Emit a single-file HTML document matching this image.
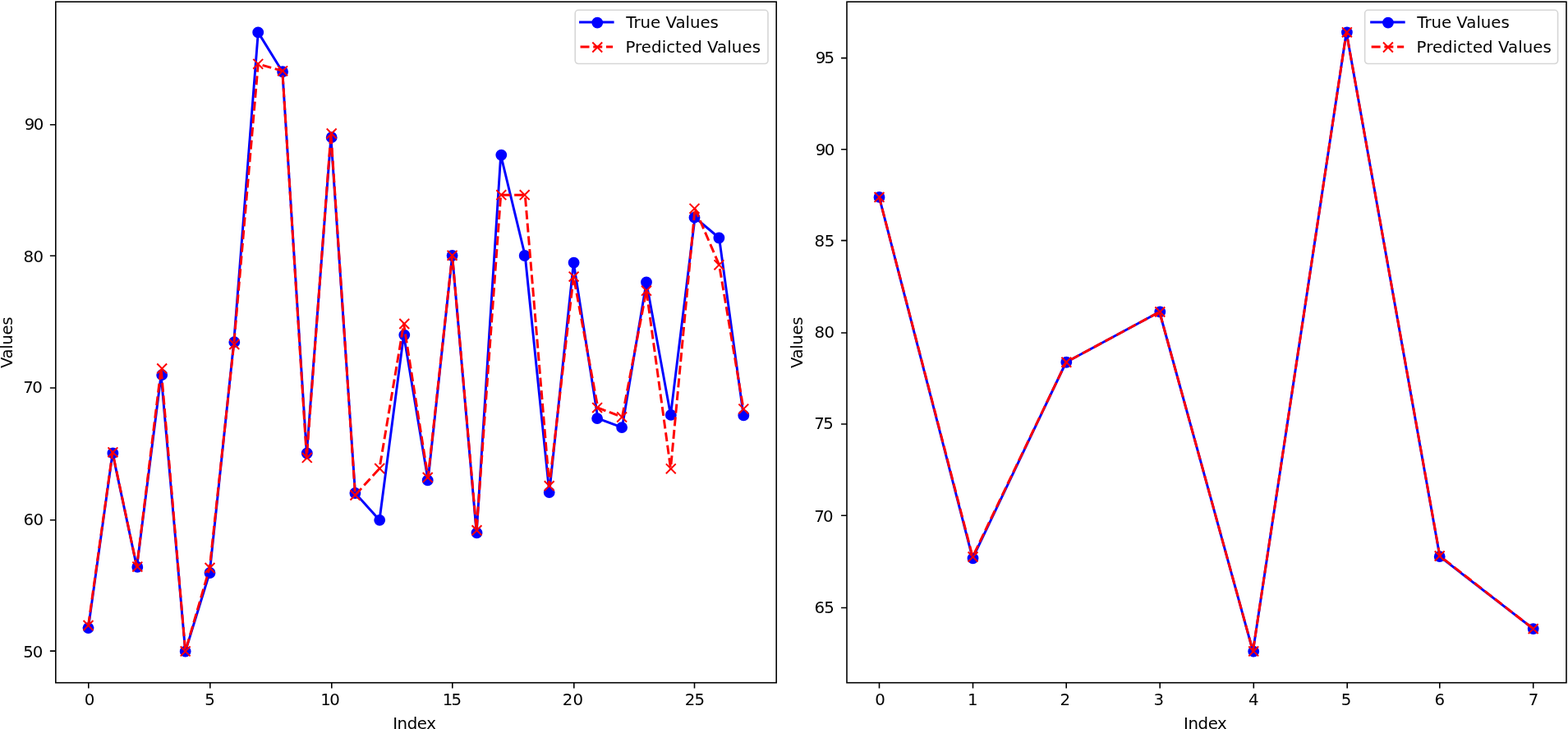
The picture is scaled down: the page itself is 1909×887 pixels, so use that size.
<!DOCTYPE html>
<html lang="en">
<head>
<meta charset="utf-8">
<title>True vs Predicted Values</title>
<style>
html,body{margin:0;padding:0;background:#fff;}
body{width:1909px;height:887px;overflow:hidden;}
svg{display:block;}
text{font-family:'DejaVu Sans','Liberation Sans',sans-serif;font-size:19.76px;fill:#000;}
.lt{fill:none;stroke:#00f;stroke-width:2.96;stroke-linejoin:round;stroke-linecap:square;}
.mt,.mt circle{fill:#00f;stroke:#00f;stroke-width:1.98;}
.lp path{fill:none;stroke:#f00;stroke-width:2.96;stroke-linecap:butt;stroke-dasharray:10.97 4.74;}
.jp circle{fill:#f00;}
.mp{fill:none;stroke:#f00;stroke-width:1.98;stroke-linecap:butt;}
.tk{fill:none;stroke:#000;stroke-width:1.58;}
.sp{fill:none;stroke:#000;stroke-width:1.58;stroke-linejoin:miter;}
.lb{fill:#fff;fill-opacity:.8;stroke:#ccc;stroke-opacity:.8;stroke-width:1.6;}
</style>
</head>
<body>
<svg xmlns="http://www.w3.org/2000/svg" width="1909" height="887" viewBox="0 0 1909 887">
<rect width="1909" height="887" fill="#fff"/>
<g class="chart" id="chart-a">
<clipPath id="clip-a"><rect x="67.8" y="2.2" width="877.4" height="828.5"/></clipPath>
<g clip-path="url(#clip-a)">
<polyline class="lt" points="107.5,764.1 137.04,551.4 166.58,689.9 196.13,456.2 225.67,792.6 255.21,697 284.75,416.2 314.29,39.4 343.84,87.25 373.38,551.5 402.92,167.2 432.46,600 462,632.8 491.55,407.6 521.09,584.4 550.63,311 580.17,648.4 609.71,188.6 639.26,311 668.8,599.1 698.34,319.6 727.88,509.1 757.42,520.1 786.97,343.5 816.51,504.9 846.05,264.7 875.59,289.5 905.13,505.4"/>
<g class="mt"><circle cx="107.5" cy="764.1" r="5.93"/><circle cx="137.4" cy="551.4" r="5.93"/><circle cx="167.3" cy="689.9" r="5.93"/><circle cx="197.2" cy="456.2" r="5.93"/><circle cx="225.7" cy="792.6" r="5.93"/><circle cx="255.5" cy="697" r="5.93"/><circle cx="285.3" cy="416.2" r="5.93"/><circle cx="314.2" cy="39.4" r="5.93"/><circle cx="344.1" cy="87.25" r="5.93"/><circle cx="373.8" cy="551.5" r="5.93"/><circle cx="403.7" cy="167.2" r="5.93"/><circle cx="432.4" cy="600" r="5.93"/><circle cx="462.2" cy="632.8" r="5.93"/><circle cx="492.3" cy="407.6" r="5.93"/><circle cx="520.7" cy="584.4" r="5.93"/><circle cx="550.6" cy="311" r="5.93"/><circle cx="580.5" cy="648.4" r="5.93"/><circle cx="610.3" cy="188.6" r="5.93"/><circle cx="638.7" cy="311" r="5.93"/><circle cx="668.7" cy="599.1" r="5.93"/><circle cx="698.6" cy="319.6" r="5.93"/><circle cx="727.1" cy="509.1" r="5.93"/><circle cx="757.1" cy="520.1" r="5.93"/><circle cx="787" cy="343.5" r="5.93"/><circle cx="816.8" cy="504.9" r="5.93"/><circle cx="845.5" cy="264.7" r="5.93"/><circle cx="875.4" cy="289.5" r="5.93"/><circle cx="905.3" cy="505.4" r="5.93"/></g>
<g class="lp"><path d="M107.5 761L137.04 550.3" stroke-dashoffset="15.21"/><path d="M137.04 550.3L166.58 689.6" stroke-dashoffset="7.8"/><path d="M166.58 689.6L196.13 448.4" stroke-dashoffset="6.37"/><path d="M196.13 448.4L225.67 792.4" stroke-dashoffset="13.91"/><path d="M225.67 792.4L255.21 691" stroke-dashoffset="10.73"/><path d="M255.21 691L284.75 419" stroke-dashoffset="6.64"/><path d="M284.75 419L314.29 77.8" stroke-dashoffset="12.98"/><path d="M314.29 77.8L343.84 86.3" stroke-dashoffset="10.18"/><path d="M343.84 86.3L373.38 556.9" stroke-dashoffset="10.31"/><path d="M373.38 556.9L402.92 162.5" stroke-dashoffset="9.89"/><path d="M402.92 162.5L432.46 602.5" stroke-dashoffset="13.97"/><path d="M432.46 602.5L462 570" stroke-dashoffset="15.36"/><path d="M462 570L491.55 394" stroke-dashoffset="10.96"/><path d="M491.55 394L521.09 580.9" stroke-dashoffset="3.03"/><path d="M521.09 580.9L550.63 310.8" stroke-dashoffset="2.86"/><path d="M550.63 310.8L580.17 645.25" stroke-dashoffset="8.82"/><path d="M580.17 645.25L609.71 237.2" stroke-dashoffset="13.51"/><path d="M609.71 237.2L639.26 237.2" stroke-dashoffset="14.98"/><path d="M639.26 237.2L668.8 591.2" stroke-dashoffset="12.51"/><path d="M668.8 591.2L698.34 336.6" stroke-dashoffset="5.59"/><path d="M698.34 336.6L727.88 496.1" stroke-dashoffset="10.95"/><path d="M727.88 496.1L757.42 507.5" stroke-dashoffset="0.74"/><path d="M757.42 507.5L786.97 353.7" stroke-dashoffset="14.62"/><path d="M786.97 353.7L816.51 570.3" stroke-dashoffset="14.44"/><path d="M816.51 570.3L846.05 253.8" stroke-dashoffset="10.6"/><path d="M846.05 253.8L875.59 322.3" stroke-dashoffset="15.65"/><path d="M875.59 322.3L905.13 497.6" stroke-dashoffset="11.05"/></g>
<g class="jp"><circle cx="137.04" cy="550.3" r="1.48"/><circle cx="166.58" cy="689.6" r="1.48"/><circle cx="225.67" cy="792.4" r="1.48"/><circle cx="255.21" cy="691" r="1.48"/><circle cx="314.29" cy="77.8" r="1.48"/><circle cx="343.84" cy="86.3" r="1.48"/><circle cx="373.38" cy="556.9" r="1.48"/><circle cx="462" cy="570" r="1.48"/><circle cx="491.55" cy="394" r="1.48"/><circle cx="521.09" cy="580.9" r="1.48"/><circle cx="550.63" cy="310.8" r="1.48"/><circle cx="668.8" cy="591.2" r="1.48"/><circle cx="698.34" cy="336.6" r="1.48"/><circle cx="727.88" cy="496.1" r="1.48"/><circle cx="757.42" cy="507.5" r="1.48"/><circle cx="816.51" cy="570.3" r="1.48"/><circle cx="905.13" cy="497.6" r="1.48"/></g>
<path class="mp" d="M101.57 755.07l11.86 11.86M101.57 766.93l11.86 -11.86M131.47 544.37l11.86 11.86M131.47 556.23l11.86 -11.86M161.37 683.67l11.86 11.86M161.37 695.53l11.86 -11.86M191.27 442.47l11.86 11.86M191.27 454.33l11.86 -11.86M219.77 786.47l11.86 11.86M219.77 798.33l11.86 -11.86M249.57 685.07l11.86 11.86M249.57 696.93l11.86 -11.86M279.37 413.07l11.86 11.86M279.37 424.93l11.86 -11.86M308.27 71.87l11.86 11.86M308.27 83.73l11.86 -11.86M338.17 80.37l11.86 11.86M338.17 92.23l11.86 -11.86M367.87 550.97l11.86 11.86M367.87 562.83l11.86 -11.86M397.77 156.57l11.86 11.86M397.77 168.43l11.86 -11.86M426.47 596.57l11.86 11.86M426.47 608.43l11.86 -11.86M456.27 564.07l11.86 11.86M456.27 575.93l11.86 -11.86M486.37 388.07l11.86 11.86M486.37 399.93l11.86 -11.86M514.77 574.97l11.86 11.86M514.77 586.83l11.86 -11.86M544.67 304.87l11.86 11.86M544.67 316.73l11.86 -11.86M574.57 639.32l11.86 11.86M574.57 651.18l11.86 -11.86M604.37 231.27l11.86 11.86M604.37 243.13l11.86 -11.86M632.77 231.27l11.86 11.86M632.77 243.13l11.86 -11.86M662.77 585.27l11.86 11.86M662.77 597.13l11.86 -11.86M692.67 330.67l11.86 11.86M692.67 342.53l11.86 -11.86M721.17 490.17l11.86 11.86M721.17 502.03l11.86 -11.86M751.17 501.57l11.86 11.86M751.17 513.43l11.86 -11.86M781.07 347.77l11.86 11.86M781.07 359.63l11.86 -11.86M810.87 564.37l11.86 11.86M810.87 576.23l11.86 -11.86M839.57 247.87l11.86 11.86M839.57 259.73l11.86 -11.86M869.47 316.37l11.86 11.86M869.47 328.23l11.86 -11.86M899.37 491.67l11.86 11.86M899.37 503.53l11.86 -11.86"/>
</g>
<path class="tk" d="M107.8 830.7v6.92M255.8 830.7v6.92M403.8 830.7v6.92M550.8 830.7v6.92M698.8 830.7v6.92M845.5 830.7v6.92M67.8 792.1h-6.92M67.8 632.7h-6.92M67.8 472h-6.92M67.8 311.2h-6.92M67.8 151.8h-6.92"/>
<rect class="sp" x="67.8" y="2.2" width="877.4" height="828.5"/>
<g class="xt"><text id="ax0" x="102.64" y="858">0</text><text id="ax5" x="249.14" y="858">5</text><text id="ax10" x="390.2" y="858" style="letter-spacing:-1.4px">10</text><text id="ax15" x="538.7" y="858" style="letter-spacing:-1.75px">15</text><text id="ax20" x="684.7" y="858" style="letter-spacing:0.25px">20</text><text id="ax25" x="833.65" y="858" style="letter-spacing:-0.75px">25</text></g>
<g class="yt"><text id="ay50" x="28.35" y="800" style="letter-spacing:-1.2px">50</text><text id="ay60" x="28.6" y="639" style="letter-spacing:-0.6px">60</text><text id="ay70" x="28.35" y="478" style="letter-spacing:-1.7px">70</text><text id="ay80" x="28.6" y="319" style="letter-spacing:-0.6px">80</text><text id="ay90" x="29.85" y="158" style="letter-spacing:-1.7px">90</text></g>
<text id="axl" x="478.15" y="887" style="letter-spacing:-0.398px">Index</text>
<text id="ayl" transform="translate(15.2 448.05) rotate(-90)" style="letter-spacing:-0.39px">Values</text>
<g class="lg">
<rect class="lb" x="700.25" y="12.3" width="234.75" height="65.2" rx="3.95" ry="3.95"/>
<path class="lt" d="M706.55 27H746.1"/>
<circle class="mt" cx="727.25" cy="27.6" r="5.93"/>
<g class="lp"><path d="M706.55 56.9H746.1"/></g>
<path class="mp" d="M721.32 51.57l11.86 11.86M721.32 63.43l11.86 -11.86"/>
<text id="alt" x="762.35" y="34" style="letter-spacing:-0.025px">True Values</text>
<text id="alp" x="761.45" y="64" style="letter-spacing:0.065px">Predicted Values</text>
</g>
</g>
<g class="chart" id="chart-b">
<clipPath id="clip-b"><rect x="1031" y="2.2" width="876" height="828.5"/></clipPath>
<g clip-path="url(#clip-b)">
<polyline class="lt" points="1070.4,239.9 1184.16,679.3 1297.92,440.75 1411.68,379.5 1525.44,792.6 1639.2,39.3 1752.96,677.2 1866.72,765.1"/>
<g class="mt"><circle cx="1070.5" cy="239.9" r="5.93"/><circle cx="1184.5" cy="679.3" r="5.93"/><circle cx="1298.3" cy="440.75" r="5.93"/><circle cx="1412.3" cy="379.5" r="5.93"/><circle cx="1526.2" cy="792.6" r="5.93"/><circle cx="1639.9" cy="39.3" r="5.93"/><circle cx="1752.7" cy="677.2" r="5.93"/><circle cx="1866.7" cy="765.1" r="5.93"/></g>
<g class="lp"><path d="M1070.4 239.9L1184.16 677.5" stroke-dashoffset="1.29"/><path d="M1184.16 677.5L1297.92 440.75" stroke-dashoffset="11.51"/><path d="M1297.92 440.75L1411.68 379.5" stroke-dashoffset="8.81"/><path d="M1411.68 379.5L1525.44 792.4" stroke-dashoffset="13.18"/><path d="M1525.44 792.4L1639.2 39.3" stroke-dashoffset="13.93"/><path d="M1639.2 39.3L1752.96 676.5" stroke-dashoffset="7.32"/><path d="M1752.96 676.5L1866.72 765.1" stroke-dashoffset="9.29"/></g>
<g class="jp"><circle cx="1070.4" cy="239.9" r="1.48"/><circle cx="1297.92" cy="440.75" r="1.48"/><circle cx="1525.44" cy="792.4" r="1.48"/><circle cx="1639.2" cy="39.3" r="1.48"/><circle cx="1752.96" cy="676.5" r="1.48"/></g>
<path class="mp" d="M1064.57 233.97l11.86 11.86M1064.57 245.83l11.86 -11.86M1178.57 671.57l11.86 11.86M1178.57 683.43l11.86 -11.86M1292.37 434.82l11.86 11.86M1292.37 446.68l11.86 -11.86M1406.37 373.57l11.86 11.86M1406.37 385.43l11.86 -11.86M1520.27 786.47l11.86 11.86M1520.27 798.33l11.86 -11.86M1633.97 33.37l11.86 11.86M1633.97 45.23l11.86 -11.86M1746.77 670.57l11.86 11.86M1746.77 682.43l11.86 -11.86M1860.77 759.17l11.86 11.86M1860.77 771.03l11.86 -11.86"/>
</g>
<path class="tk" d="M1070.5 830.7v6.92M1184.5 830.7v6.92M1298.2 830.7v6.92M1412.2 830.7v6.92M1526.3 830.7v6.92M1640.2 830.7v6.92M1752.8 830.7v6.92M1866.7 830.7v6.92M1031 739.55h-6.92M1031 627.26h-6.92M1031 516.07h-6.92M1031 405.07h-6.92M1031 292.66h-6.92M1031 181.74h-6.92M1031 70.6h-6.92"/>
<rect class="sp" x="1031" y="2.2" width="876" height="828.5"/>
<g class="xt"><text id="bx0" x="1065.35" y="858">0</text><text id="bx1" x="1178.04" y="858">1</text><text id="bx2" x="1290.49" y="858">2</text><text id="bx3" x="1404.41" y="858">3</text><text id="bx4" x="1519.88" y="858">4</text><text id="bx5" x="1632.64" y="858">5</text><text id="bx6" x="1746.38" y="858">6</text><text id="bx7" x="1860.64" y="858">7</text></g>
<g class="yt"><text id="by65" x="991.6" y="746" style="letter-spacing:-1px">65</text><text id="by70" x="991.35" y="635" style="letter-spacing:-2px">70</text><text id="by75" x="991.35" y="522" style="letter-spacing:-1.7px">75</text><text id="by80" x="991.6" y="411" style="letter-spacing:-0.6px">80</text><text id="by85" x="991.6" y="300" style="letter-spacing:-0.35px">85</text><text id="by90" x="992.85" y="189" style="letter-spacing:-1.7px">90</text><text id="by95" x="992.85" y="77" style="letter-spacing:-2px">95</text></g>
<text id="bxl" x="1441" y="887" style="letter-spacing:-0.398px">Index</text>
<text id="byl" transform="translate(976.7 448.05) rotate(-90)" style="letter-spacing:-0.39px">Values</text>
<g class="lg">
<rect class="lb" x="1661.65" y="12.3" width="234.95" height="65.2" rx="3.95" ry="3.95"/>
<path class="lt" d="M1669.65 27H1709.2"/>
<circle class="mt" cx="1689.95" cy="27.6" r="5.93"/>
<g class="lp"><path d="M1669.65 56.9H1709.2"/></g>
<path class="mp" d="M1684.02 51.57l11.86 11.86M1684.02 63.43l11.86 -11.86"/>
<text id="blt" x="1725.25" y="34" style="letter-spacing:-0.025px">True Values</text>
<text id="blp" x="1724.6" y="64" style="letter-spacing:0.041px">Predicted Values</text>
</g>
</g>
</svg>
</body>
</html>
